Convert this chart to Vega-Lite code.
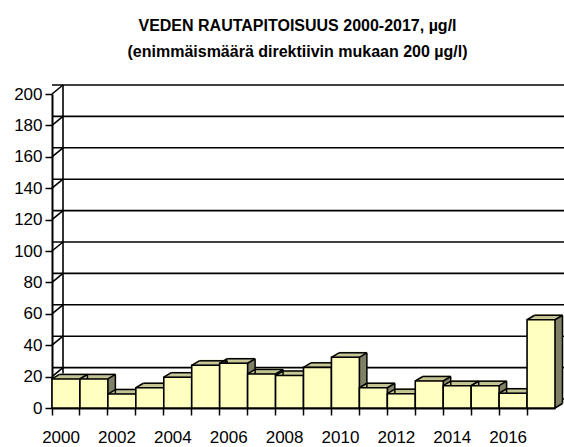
{
  "$schema": "https://vega.github.io/schema/vega-lite/v6.json",
  "autosize": "none",
  "width": 503,
  "height": 314,
  "padding": {"left": 52, "top": 94, "right": 9, "bottom": 39},
  "background": "white",
  "config": {
    "view": {"stroke": null},
    "font": "Liberation Sans",
    "axisY": {"labelOverlap": false, "tickCount": 11},
    "axis": {"labelOverlap": false}
  },
  "title": {
    "text": ["VEDEN RAUTAPITOISUUS 2000-2017, µg/l", "(enimmäismäärä direktiivin mukaan 200 µg/l)"],
    "font": "Liberation Sans",
    "fontSize": 16,
    "fontWeight": "bold",
    "color": "black",
    "lineHeight": 26,
    "anchor": "middle",
    "frame": "group",
    "dx": -6,
    "offset": 24
  },
  "datasets": {
    "iron": [
      {"year": 2000, "value": 18.5},
      {"year": 2001, "value": 18.5},
      {"year": 2002, "value": 8.9},
      {"year": 2003, "value": 12.9},
      {"year": 2004, "value": 19.6},
      {"year": 2005, "value": 27.2},
      {"year": 2006, "value": 28.5},
      {"year": 2007, "value": 21.7},
      {"year": 2008, "value": 20.7},
      {"year": 2009, "value": 25.9},
      {"year": 2010, "value": 32.3},
      {"year": 2011, "value": 12.9},
      {"year": 2012, "value": 9.1},
      {"year": 2013, "value": 17.2},
      {"year": 2014, "value": 14.2},
      {"year": 2015, "value": 14.2},
      {"year": 2016, "value": 9.4},
      {"year": 2017, "value": 56.2}
    ],
    "grid": [
      {"v": 0}, {"v": 20}, {"v": 40}, {"v": 60}, {"v": 80}, {"v": 100},
      {"v": 120}, {"v": 140}, {"v": 160}, {"v": 180}, {"v": 200}
    ]
  },
  "resolve": {"scale": {"x": "shared", "y": "shared"}},
  "layer": [
    {
      "data": {"name": "grid"},
      "mark": {"type": "rule", "color": "black", "strokeWidth": 1.6, "xOffset": 11, "x2Offset": 11, "yOffset": -9, "clip": false},
      "encoding": {
        "y": {"field": "v", "type": "quantitative", "scale": {"domain": [0, 200], "nice": false, "zero": true},
          "axis": {"values": [0, 20, 40, 60, 80, 100, 120, 140, 160, 180, 200], "tickCount": 11, "grid": false, "title": null, "labelOverlap": false,
            "domainColor": "black", "domainWidth": 2, "tickColor": "black", "tickWidth": 1.5, "tickSize": 7,
            "labelFont": "Liberation Sans", "labelFontSize": 17, "labelColor": "black", "labelPadding": 3}}
      }
    },
    {
      "data": {"name": "grid"},
      "mark": {"type": "rule", "color": "black", "strokeWidth": 1.6, "xOffset": -13.97, "x2Offset": -2.97, "y2Offset": -9, "clip": false},
      "encoding": {
        "x": {"datum": 2000, "type": "ordinal"},
        "x2": {"datum": 2000},
        "y": {"field": "v", "type": "quantitative"},
        "y2": {"field": "v"}
      }
    },
    {
      "data": {"values": [{}]},
      "mark": {"type": "rule", "color": "black", "strokeWidth": 1.6, "xOffset": -2.97, "yOffset": -9, "y2Offset": -9, "clip": false},
      "encoding": {
        "x": {"datum": 2000, "type": "ordinal"},
        "y": {"datum": 0, "type": "quantitative"},
        "y2": {"datum": 200}
      }
    },
    {"data": {"name": "iron"}, "mark": {"type": "bar", "fill": "#808066", "xOffset": 7.5, "x2Offset": 7.5, "yOffset": -4.5, "y2Offset": -4.5},
      "encoding": {"x": {"field": "year", "type": "ordinal", "scale": {"paddingInner": 0, "paddingOuter": 0},
        "axis": {"title": null, "bandPosition": 0, "labelOffset": 14, "labelAngle": 0, "labelOverlap": false,
          "labelExpr": "datum.value % 2 === 0 ? datum.label : ''",
          "domainColor": "black", "domainWidth": 2, "tickColor": "black", "tickWidth": 1.5, "tickSize": 7,
          "labelFont": "Liberation Sans", "labelFontSize": 17, "labelColor": "black", "labelPadding": 22}},
        "y": {"field": "value", "type": "quantitative"}}},
    {"data": {"name": "iron"}, "mark": {"type": "bar", "fill": "#CCCC99", "xOffset": 7.5, "x2Offset": 7.5, "yOffset": -4.5, "y2Offset": -5.5},
      "encoding": {"x": {"field": "year", "type": "ordinal"}, "y": {"field": "value", "type": "quantitative"}, "y2": {"field": "value"}}},
    {"data": {"name": "iron"}, "mark": {"type": "bar", "fill": "#808066", "xOffset": 6.25, "x2Offset": 6.25, "yOffset": -3.75, "y2Offset": -3.75},
      "encoding": {"x": {"field": "year", "type": "ordinal"}, "y": {"field": "value", "type": "quantitative"}}},
    {"data": {"name": "iron"}, "mark": {"type": "bar", "fill": "#CCCC99", "xOffset": 6.25, "x2Offset": 6.25, "yOffset": -3.75, "y2Offset": -4.75},
      "encoding": {"x": {"field": "year", "type": "ordinal"}, "y": {"field": "value", "type": "quantitative"}, "y2": {"field": "value"}}},
    {"data": {"name": "iron"}, "mark": {"type": "bar", "fill": "#808066", "xOffset": 5, "x2Offset": 5, "yOffset": -3, "y2Offset": -3},
      "encoding": {"x": {"field": "year", "type": "ordinal"}, "y": {"field": "value", "type": "quantitative"}}},
    {"data": {"name": "iron"}, "mark": {"type": "bar", "fill": "#CCCC99", "xOffset": 5, "x2Offset": 5, "yOffset": -3, "y2Offset": -4},
      "encoding": {"x": {"field": "year", "type": "ordinal"}, "y": {"field": "value", "type": "quantitative"}, "y2": {"field": "value"}}},
    {"data": {"name": "iron"}, "mark": {"type": "bar", "fill": "#808066", "xOffset": 3.75, "x2Offset": 3.75, "yOffset": -2.25, "y2Offset": -2.25},
      "encoding": {"x": {"field": "year", "type": "ordinal"}, "y": {"field": "value", "type": "quantitative"}}},
    {"data": {"name": "iron"}, "mark": {"type": "bar", "fill": "#CCCC99", "xOffset": 3.75, "x2Offset": 3.75, "yOffset": -2.25, "y2Offset": -3.25},
      "encoding": {"x": {"field": "year", "type": "ordinal"}, "y": {"field": "value", "type": "quantitative"}, "y2": {"field": "value"}}},
    {"data": {"name": "iron"}, "mark": {"type": "bar", "fill": "#808066", "xOffset": 2.5, "x2Offset": 2.5, "yOffset": -1.5, "y2Offset": -1.5},
      "encoding": {"x": {"field": "year", "type": "ordinal"}, "y": {"field": "value", "type": "quantitative"}}},
    {"data": {"name": "iron"}, "mark": {"type": "bar", "fill": "#CCCC99", "xOffset": 2.5, "x2Offset": 2.5, "yOffset": -1.5, "y2Offset": -2.5},
      "encoding": {"x": {"field": "year", "type": "ordinal"}, "y": {"field": "value", "type": "quantitative"}, "y2": {"field": "value"}}},
    {"data": {"name": "iron"}, "mark": {"type": "bar", "fill": "#808066", "xOffset": 1.25, "x2Offset": 1.25, "yOffset": -0.75, "y2Offset": -0.75},
      "encoding": {"x": {"field": "year", "type": "ordinal"}, "y": {"field": "value", "type": "quantitative"}}},
    {"data": {"name": "iron"}, "mark": {"type": "bar", "fill": "#CCCC99", "xOffset": 1.25, "x2Offset": 1.25, "yOffset": -0.75, "y2Offset": -1.75},
      "encoding": {"x": {"field": "year", "type": "ordinal"}, "y": {"field": "value", "type": "quantitative"}, "y2": {"field": "value"}}},
    {"data": {"name": "iron"}, "mark": {"type": "rule", "color": "black", "strokeWidth": 1.5, "xOffset": -13.97, "x2Offset": -6.47, "y2Offset": -4.5},
      "encoding": {"x": {"field": "year", "type": "ordinal"}, "x2": {"field": "year"}, "y": {"field": "value", "type": "quantitative"}, "y2": {"field": "value"}}},
    {"data": {"name": "iron"}, "mark": {"type": "rule", "color": "black", "strokeWidth": 1.5, "xOffset": 13.97, "x2Offset": 21.47, "y2Offset": -4.5},
      "encoding": {"x": {"field": "year", "type": "ordinal"}, "x2": {"field": "year"}, "y": {"field": "value", "type": "quantitative"}, "y2": {"field": "value"}}},
    {"data": {"name": "iron"}, "mark": {"type": "rule", "color": "black", "strokeWidth": 1.5, "xOffset": -6.47, "x2Offset": 21.47, "yOffset": -4.5, "y2Offset": -4.5},
      "encoding": {"x": {"field": "year", "type": "ordinal"}, "x2": {"field": "year"}, "y": {"field": "value", "type": "quantitative"}, "y2": {"field": "value"}}},
    {"data": {"name": "iron"}, "mark": {"type": "rule", "color": "black", "strokeWidth": 1.5, "xOffset": 21.47, "yOffset": -4.5, "y2Offset": -4.5},
      "encoding": {"x": {"field": "year", "type": "ordinal"}, "y": {"field": "value", "type": "quantitative"}, "y2": {"datum": 0}}},
    {"data": {"name": "iron"}, "mark": {"type": "rule", "color": "black", "strokeWidth": 1.5, "xOffset": 13.97, "x2Offset": 21.47, "y2Offset": -4.5},
      "encoding": {"x": {"field": "year", "type": "ordinal"}, "x2": {"field": "year"}, "y": {"datum": 0, "type": "quantitative"}, "y2": {"datum": 0}}},
    {"data": {"name": "iron"}, "mark": {"type": "bar", "fill": "#FFFFC0", "stroke": "black", "strokeWidth": 1.6},
      "encoding": {"x": {"field": "year", "type": "ordinal"}, "y": {"field": "value", "type": "quantitative"}}}
  ]
}
